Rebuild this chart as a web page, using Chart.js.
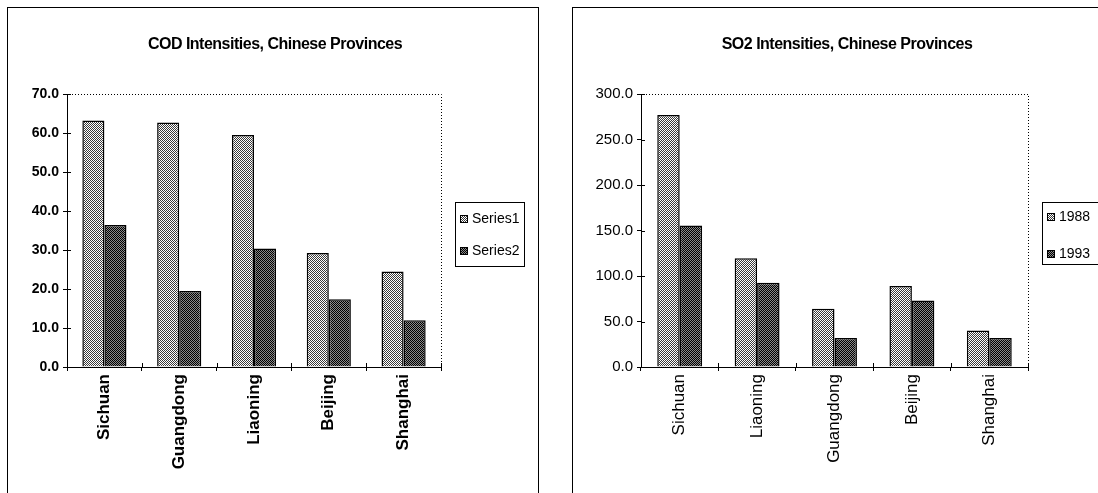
<!DOCTYPE html>
<html>
<head>
<meta charset="utf-8">
<script src="https://cdn.jsdelivr.net/npm/chart.js@4.4.1/dist/chart.umd.min.js"></script>
<style>
  html, body { margin: 0; padding: 0; background: #fff; overflow: hidden; }
  body { width: 1098px; height: 493px; position: relative; }
  .frame { position: absolute; top: 7px; height: 520px; border: 1px solid #000; box-sizing: border-box; }
  canvas { position: absolute; top: 0; }
</style>
</head>
<body>
<div class="frame" style="left:7px; width:532px;"></div>
<div class="frame" style="left:572px; width:560px;"></div>
<canvas id="cod-chart" width="550" height="493" style="left:0px;"></canvas>
<canvas id="so2-chart" width="549" height="493" style="left:549px;"></canvas>
<script>
// COD chart data
const codProvinces = ['Sichuan', 'Guangdong', 'Liaoning', 'Beijing', 'Shanghai'];
const codSeries1 = [63.2, 62.7, 59.5, 29.2, 24.5];
const codSeries2 = [36.4, 19.5, 30.4, 17.4, 12.0];
const codLabels = ['Series1', 'Series2'];

// SO2 chart data
const so2Provinces = ['Sichuan', 'Liaoning', 'Guangdong', 'Beijing', 'Shanghai'];
const so2Y1988 = [277.0, 119.5, 64.0, 89.0, 40.0];
const so2Y1993 = [155.5, 92.5, 32.0, 73.0, 32.0];
const so2Labels = ['1988', '1993'];

const FONT = "'Liberation Sans', Arial, sans-serif";

// checkered fills like the old excel hatch patterns
function checker(onColor, offColor) {
  var tile = document.createElement('canvas');
  tile.width = 2;
  tile.height = 2;
  var g = tile.getContext('2d');
  g.fillStyle = offColor;
  g.fillRect(0, 0, 2, 2);
  g.fillStyle = onColor;
  g.fillRect(0, 0, 1, 1);
  g.fillRect(1, 1, 1, 1);
  return document.createElement('canvas').getContext('2d').createPattern(tile, 'repeat');
}
const lightFill = checker('#3a3a3a', '#ffffff');
const darkFill = checker('#000000', '#8a8a8a');

const excelLook = {
  id: 'excelLook',
  afterDraw: (chart, args, opts) => {
    var ctx = chart.ctx,
      a = chart.chartArea,
      x = chart.scales.x,
      y = chart.scales.y;
    ctx.save();
    ctx.strokeStyle = '#000';
    ctx.lineWidth = 1;

    // dotted top and right edge of the plot
    ctx.setLineDash([1, 2]);
    ctx.beginPath();
    ctx.moveTo(a.left + 2, a.top + 0.5);
    ctx.lineTo(a.right + 0.5, a.top + 0.5);
    ctx.lineTo(a.right + 0.5, a.bottom);
    ctx.stroke();
    ctx.setLineDash([]);

    // tick marks cross the axes
    ctx.beginPath();
    y.ticks.forEach((t, i) => {
      var py = Math.round(y.getPixelForTick(i)) + 0.5;
      ctx.moveTo(a.left, py);
      ctx.lineTo(a.left + 4, py);
    });
    var half = (x.getPixelForValue(1) - x.getPixelForValue(0)) / 2;
    for (var i = 0; i <= x.ticks.length; i++) {
      var px = Math.round(x.getPixelForValue(0) - half + 2 * half * i) + 0.5;
      ctx.moveTo(px, a.bottom);
      ctx.lineTo(px, a.bottom - 4);
    }
    ctx.stroke();

    // title
    ctx.fillStyle = '#000';
    ctx.font = opts.titleFont;
    ctx.letterSpacing = '-0.5px';
    ctx.textAlign = 'center';
    ctx.textBaseline = 'middle';
    ctx.fillText(opts.title, opts.titleX, opts.titleY);
    ctx.letterSpacing = '0px';

    // boxed legend
    var L = opts.legend;
    ctx.strokeRect(L.x + 0.5, L.y + 0.5, L.w, L.h);
    ctx.font = L.font;
    ctx.textAlign = 'left';
    chart.data.datasets.forEach((ds, k) => {
      var cy = L.y + L.rows[k];
      ctx.fillStyle = ds.backgroundColor;
      ctx.fillRect(L.x + 5, cy - 4, 8, 8);
      ctx.strokeRect(L.x + 5.5, cy - 3.5, 7, 7);
      ctx.fillStyle = '#000';
      ctx.fillText(ds.label, L.x + 17, cy);
    });
    ctx.restore();
  }
};

function buildChart(id, cfg) {
  var ctx = document.getElementById(id).getContext('2d');
  return new Chart(ctx, {
    type: 'bar',
    data: {
      labels: cfg.categories,
      datasets: [
        {
          label: cfg.names[0],
          data: cfg.first,
          backgroundColor: lightFill,
          borderColor: '#000',
          borderWidth: 1.5,
          barPercentage: 1,
          categoryPercentage: cfg.groupPct,
        },
        {
          label: cfg.names[1],
          data: cfg.second,
          backgroundColor: darkFill,
          borderColor: '#000',
          borderWidth: 1.5,
          barPercentage: 1,
          categoryPercentage: cfg.groupPct,
        },
      ],
    },
    options: {
      responsive: false,
      animation: false,
      devicePixelRatio: 1,
      layout: {
        padding: { top: 94, right: cfg.padRight, bottom: 0, left: 0 },
      },
      plugins: {
        legend: { display: false },
        title: { display: false },
        tooltip: { enabled: false },
        excelLook: cfg.look,
      },
      scales: {
        x: {
          grid: { display: true, drawOnChartArea: false, color: '#000', tickLength: 4 },
          border: { color: '#000', width: 1 },
          ticks: {
            color: '#000',
            minRotation: 90,
            maxRotation: 90,
            padding: 3,
            font: { family: FONT, size: 17, weight: cfg.labelWeight },
          },
          afterFit: (s) => { s.height = 126; },
        },
        y: {
          min: 0,
          max: cfg.max,
          grid: { display: true, drawOnChartArea: false, color: '#000', tickLength: 4 },
          border: { color: '#000', width: 1 },
          ticks: {
            stepSize: cfg.step,
            color: '#000',
            padding: 4,
            font: { family: FONT, size: cfg.tickSize, weight: cfg.labelWeight },
            callback: (v) => Number(v).toFixed(1),
          },
          afterFit: (s) => { s.width = cfg.axisLeft; },
        },
      },
    },
    plugins: [excelLook],
  });
}

window.addEventListener('load', () => {
  buildChart('cod-chart', {
    categories: codProvinces,
    first: codSeries1,
    second: codSeries2,
    names: codLabels,
    max: 70,
    step: 10,
    groupPct: 0.59,
    axisLeft: 67,
    padRight: 550 - 441,
    labelWeight: 'bold',
    tickSize: 14,
    look: {
      title: 'COD Intensities, Chinese Provinces',
      titleFont: 'bold 16px ' + FONT,
      titleX: 275,
      titleY: 45,
      legend: { x: 455, y: 202, w: 69, h: 64, rows: [17, 49], font: '14px ' + FONT },
    },
  });

  buildChart('so2-chart', {
    categories: so2Provinces,
    first: so2Y1988,
    second: so2Y1993,
    names: so2Labels,
    max: 300,
    step: 50,
    groupPct: 0.58,
    axisLeft: 92,
    padRight: 549 - 479,
    labelWeight: 'normal',
    tickSize: 15,
    look: {
      title: 'SO2 Intensities, Chinese Provinces',
      titleFont: 'bold 16px ' + FONT,
      titleX: 298,
      titleY: 45,
      legend: { x: 493, y: 202, w: 70, h: 62, rows: [15, 52], font: '14px ' + FONT },
    },
  });
});
</script>
</body>
</html>
